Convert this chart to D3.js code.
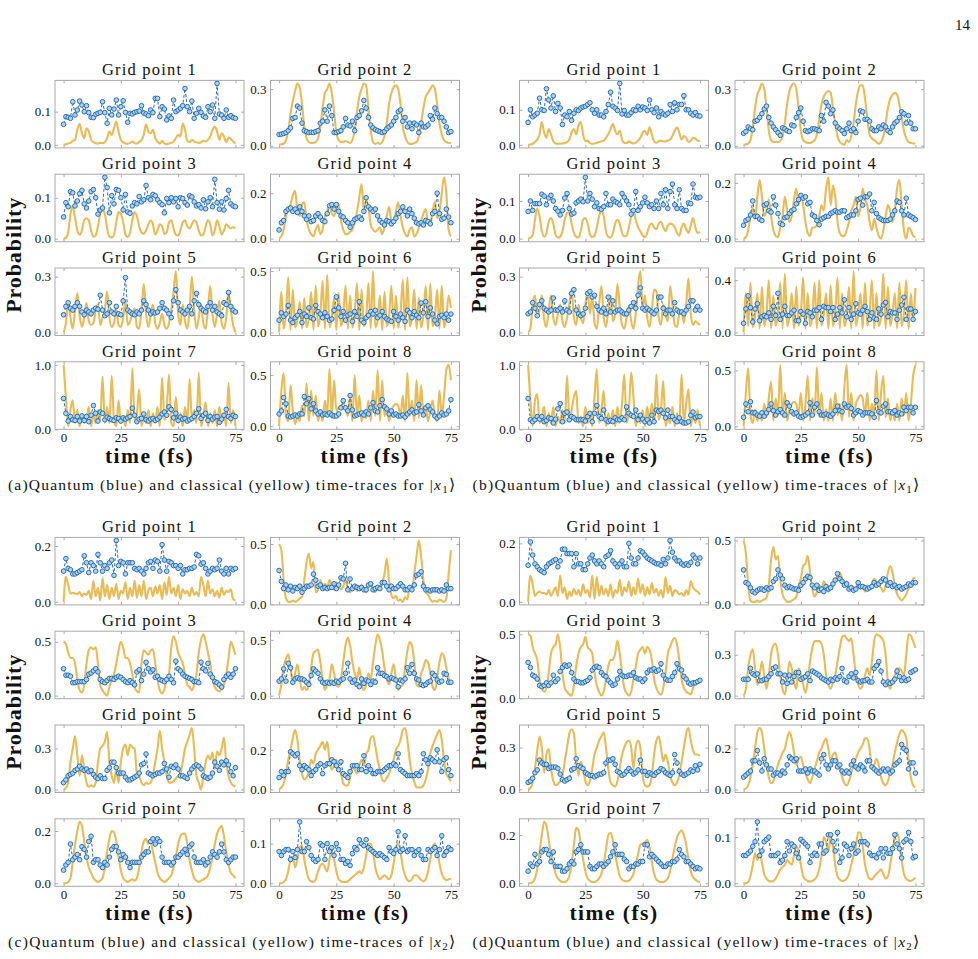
<!DOCTYPE html>
<html>
<head>
<meta charset="utf-8">
<script src="https://cdn.jsdelivr.net/npm/d3@7"></script>
<style>
  body { margin: 0; background: #fff; }
</style>
</head>
<body>
<script>
// time axis (fs)
var tMax = 75;
var xTicks = [0, 25, 50, 75];

// (a) |x1>  -- Q = quantum (blue markers), C = classical (yellow line), grid points 1..8
var aQ1 = [.062,.085,.083,.080,.130,.090,.105,.132,.120,.100,.118,.097,.083,.082,.092,.095,.098,.130,.097,.065,.110,.090,.108,.135,.090,.115,.133,.098,.068,.095,.093,.098,.100,.102,.118,.096,.093,.088,.105,.097,.140,.140,.085,.115,.108,.075,.087,.080,.135,.100,.105,.110,.118,.170,.115,.100,.132,.080,.095,.110,.098,.087,.083,.115,.100,.120,.080,.185,.093,.090,.080,.105,.083,.088,.082,.080];
var aC1 = [.000,.002,.004,.006,.012,.015,.045,.063,.035,.020,.050,.040,.015,.008,.005,.004,.006,.005,.008,.020,.040,.030,.050,.070,.040,.015,.008,.004,.003,.006,.010,.005,.004,.008,.015,.030,.062,.040,.035,.045,.020,.010,.004,.012,.004,.002,.004,.006,.010,.020,.030,.025,.064,.045,.012,.008,.015,.010,.008,.005,.008,.012,.010,.015,.025,.045,.055,.040,.015,.035,.025,.008,.022,.018,.010,.004];
var aQ2 = [.060,.062,.065,.070,.080,.095,.145,.150,.210,.200,.120,.080,.075,.070,.072,.070,.075,.080,.120,.130,.190,.130,.210,.160,.070,.070,.075,.080,.100,.145,.110,.105,.130,.080,.150,.160,.185,.240,.200,.150,.110,.095,.085,.080,.075,.070,.075,.090,.100,.110,.130,.150,.180,.190,.130,.150,.100,.120,.090,.120,.110,.070,.120,.100,.100,.110,.160,.140,.200,.170,.150,.150,.130,.100,.070,.075];
var aC2 = [.005,.008,.012,.030,.080,.170,.240,.290,.330,.310,.220,.100,.040,.020,.015,.015,.020,.040,.100,.200,.280,.300,.330,.280,.180,.070,.030,.020,.020,.025,.020,.015,.030,.080,.180,.260,.300,.330,.320,.200,.080,.020,.010,.015,.010,.020,.050,.120,.220,.280,.310,.320,.300,.220,.100,.050,.020,.010,.010,.015,.020,.050,.120,.200,.260,.280,.300,.320,.300,.220,.120,.060,.030,.020,.015,.015];
var aQ3 = [.053,.088,.078,.115,.112,.080,.092,.110,.118,.085,.075,.092,.115,.120,.100,.060,.070,.075,.150,.125,.063,.105,.085,.120,.118,.100,.070,.108,.065,.062,.080,.088,.085,.103,.090,.095,.130,.100,.095,.108,.105,.095,.088,.083,.063,.098,.088,.100,.090,.098,.078,.100,.098,.088,.082,.105,.102,.090,.080,.083,.075,.095,.073,.090,.100,.078,.145,.088,.072,.090,.070,.098,.118,.085,.080,.078];
var aC3 = [.000,.002,.015,.060,.080,.050,.020,.010,.020,.045,.050,.045,.020,.005,.008,.030,.060,.070,.060,.025,.005,.003,.010,.040,.065,.060,.040,.010,.004,.015,.045,.065,.055,.030,.015,.012,.020,.035,.045,.035,.010,.020,.035,.030,.012,.015,.040,.045,.025,.010,.008,.020,.040,.045,.030,.025,.035,.045,.040,.020,.008,.010,.030,.045,.035,.008,.020,.045,.030,.010,.020,.035,.030,.025,.028,.025];
var aQ4 = [.038,.070,.080,.120,.130,.135,.120,.130,.115,.140,.120,.100,.085,.100,.075,.080,.100,.110,.095,.080,.075,.110,.145,.150,.130,.150,.120,.100,.095,.080,.070,.050,.070,.085,.090,.095,.085,.120,.180,.140,.130,.120,.130,.100,.080,.070,.060,.080,.075,.065,.075,.090,.110,.120,.140,.120,.100,.130,.110,.090,.070,.065,.070,.060,.080,.075,.065,.110,.120,.200,.110,.085,.090,.130,.095,.070];
var aC4 = [.000,.010,.040,.100,.130,.150,.190,.210,.120,.100,.150,.160,.080,.040,.020,.010,.040,.060,.020,.040,.100,.120,.150,.110,.100,.140,.150,.080,.040,.020,.020,.030,.040,.070,.120,.180,.240,.120,.170,.140,.060,.040,.030,.040,.050,.020,.050,.100,.140,.080,.070,.120,.160,.100,.050,.020,.010,.040,.050,.010,.020,.050,.080,.110,.130,.070,.060,.120,.160,.090,.120,.200,.270,.200,.040,.010];
var aQ5 = [.095,.140,.160,.130,.120,.140,.160,.140,.110,.095,.120,.110,.100,.120,.130,.125,.200,.120,.090,.100,.160,.110,.100,.140,.100,.095,.170,.295,.120,.110,.100,.095,.110,.100,.120,.170,.150,.120,.100,.110,.105,.110,.130,.160,.130,.120,.100,.080,.170,.230,.160,.120,.110,.100,.120,.140,.100,.170,.210,.150,.130,.120,.110,.140,.160,.120,.140,.110,.100,.090,.160,.150,.215,.140,.120,.110];
var aC5 = [.000,.050,.170,.080,.020,.120,.210,.090,.030,.080,.160,.060,.040,.050,.120,.150,.040,.080,.120,.220,.080,.030,.050,.120,.040,.030,.080,.170,.040,.060,.100,.130,.030,.020,.120,.260,.100,.030,.090,.150,.050,.020,.050,.100,.040,.020,.050,.120,.220,.330,.100,.040,.150,.060,.020,.120,.300,.120,.020,.080,.150,.050,.020,.120,.250,.100,.030,.100,.170,.050,.020,.080,.210,.120,.040,.000];
var aQ6 = [.100,.160,.130,.150,.220,.100,.080,.120,.140,.170,.080,.150,.130,.200,.120,.110,.220,.170,.150,.120,.160,.130,.100,.110,.180,.290,.200,.130,.170,.100,.140,.150,.090,.170,.130,.250,.100,.080,.120,.140,.170,.150,.180,.120,.140,.170,.130,.110,.100,.090,.170,.130,.100,.150,.120,.090,.180,.160,.120,.170,.140,.120,.240,.160,.250,.130,.200,.150,.100,.070,.130,.140,.120,.150,.100,.150];
var aC6 = [.000,.330,.030,.150,.450,.020,.350,.040,.100,.250,.030,.280,.040,.120,.330,.020,.380,.050,.150,.420,.030,.470,.040,.120,.280,.020,.320,.050,.140,.380,.030,.300,.040,.150,.400,.020,.350,.050,.120,.400,.030,.500,.040,.100,.300,.020,.330,.050,.130,.380,.030,.300,.040,.150,.430,.020,.450,.050,.120,.350,.030,.280,.040,.140,.380,.020,.400,.050,.120,.350,.030,.380,.040,.120,.300,.200];
var aQ7 = [.480,.250,.130,.200,.150,.140,.200,.130,.210,.140,.200,.120,.220,.370,.250,.130,.270,.250,.150,.190,.170,.150,.140,.180,.170,.130,.180,.160,.180,.200,.330,.220,.120,.160,.170,.240,.150,.130,.160,.170,.140,.160,.190,.240,.270,.220,.350,.310,.180,.250,.140,.190,.160,.170,.130,.150,.170,.200,.250,.320,.170,.220,.250,.140,.200,.160,.190,.200,.110,.160,.220,.310,.200,.170,.220,.200];
var aC7 = [1.00,.500,.050,.300,.450,.100,.300,.050,.200,.100,.150,.350,.050,.250,.100,.300,.150,.820,.100,.350,.100,.830,.150,.050,.450,.100,.200,.050,.300,.100,.950,.150,.250,.620,.050,.200,.100,.300,.050,.250,.100,.350,.050,.800,.150,.300,.850,.100,.050,.500,.100,.250,.050,.350,.100,.780,.150,.300,.100,.880,.050,.200,.420,.050,.250,.100,.300,.050,.350,.100,.250,.050,.720,.100,.300,.050];
var aQ8 = [.120,.150,.280,.220,.100,.090,.100,.110,.100,.120,.120,.290,.220,.270,.170,.220,.150,.120,.140,.110,.120,.110,.130,.110,.100,.100,.120,.180,.250,.180,.150,.300,.160,.100,.110,.120,.130,.110,.140,.120,.180,.230,.150,.140,.200,.260,.190,.170,.120,.150,.110,.120,.100,.100,.110,.090,.120,.140,.160,.130,.140,.210,.150,.110,.180,.200,.160,.140,.100,.080,.100,.130,.110,.120,.150,.260];
var aC8 = [.000,.350,.520,.100,.050,.400,.150,.020,.100,.050,.200,.100,.420,.050,.350,.100,.300,.050,.150,.050,.250,.100,.560,.080,.450,.150,.180,.200,.220,.180,.100,.300,.050,.500,.100,.300,.050,.150,.080,.250,.050,.350,.100,.550,.050,.450,.100,.200,.050,.150,.200,.220,.200,.100,.300,.050,.520,.100,.250,.050,.450,.080,.400,.100,.200,.050,.150,.250,.100,.050,.350,.100,.300,.550,.600,.450];

// (b) |x1>
var bQ1 = [.064,.100,.080,.085,.090,.133,.100,.098,.160,.128,.105,.140,.095,.118,.105,.058,.085,.080,.095,.070,.090,.100,.098,.105,.108,.110,.115,.120,.100,.090,.100,.085,.085,.080,.095,.115,.150,.110,.105,.098,.175,.088,.098,.085,.085,.092,.100,.098,.110,.100,.108,.105,.098,.128,.100,.092,.105,.080,.095,.088,.085,.090,.115,.095,.120,.100,.115,.115,.140,.100,.100,.090,.085,.092,.083,.082];
var bC1 = [.000,.001,.003,.008,.015,.030,.065,.035,.020,.045,.030,.010,.004,.003,.003,.004,.005,.008,.015,.035,.045,.030,.055,.065,.030,.010,.012,.005,.003,.004,.006,.008,.010,.012,.020,.030,.045,.060,.040,.030,.040,.015,.006,.005,.010,.006,.004,.006,.012,.020,.035,.040,.028,.050,.030,.010,.006,.010,.012,.010,.010,.012,.015,.025,.040,.050,.035,.015,.025,.020,.008,.012,.020,.018,.012,.010];
var bQ2 = [.066,.075,.100,.090,.085,.130,.135,.150,.170,.195,.210,.150,.120,.100,.085,.070,.055,.095,.090,.080,.075,.110,.105,.150,.175,.200,.130,.080,.075,.080,.090,.090,.085,.080,.160,.130,.230,.210,.170,.190,.120,.100,.090,.080,.065,.090,.120,.080,.090,.070,.130,.185,.180,.140,.140,.130,.090,.080,.080,.100,.090,.110,.100,.080,.070,.100,.120,.130,.150,.180,.170,.120,.160,.120,.090,.090];
var bC2 = [.005,.008,.012,.030,.100,.200,.270,.300,.330,.300,.200,.080,.030,.020,.020,.020,.025,.050,.120,.220,.290,.320,.330,.300,.200,.080,.030,.020,.015,.015,.020,.030,.060,.140,.220,.260,.280,.290,.280,.200,.120,.050,.020,.010,.005,.030,.020,.050,.120,.220,.290,.320,.320,.250,.150,.060,.040,.030,.020,.010,.020,.050,.120,.200,.250,.270,.280,.270,.220,.150,.080,.040,.020,.015,.012,.012];
var bQ3 = [.072,.100,.075,.093,.093,.093,.118,.113,.090,.108,.115,.100,.080,.073,.063,.075,.108,.120,.080,.065,.068,.095,.100,.105,.098,.163,.100,.120,.105,.085,.095,.080,.078,.085,.120,.090,.090,.105,.098,.095,.090,.120,.110,.100,.090,.065,.075,.125,.075,.085,.095,.110,.095,.085,.090,.080,.100,.080,.120,.090,.130,.080,.125,.145,.090,.080,.130,.080,.075,.075,.095,.093,.145,.110,.108,.110];
var bC3 = [.000,.002,.010,.050,.080,.060,.020,.005,.015,.045,.055,.040,.010,.003,.005,.020,.050,.068,.070,.040,.015,.005,.003,.020,.050,.055,.040,.012,.004,.008,.030,.060,.075,.060,.020,.005,.003,.015,.040,.050,.040,.015,.006,.008,.030,.060,.075,.050,.030,.020,.008,.004,.015,.035,.040,.030,.025,.040,.045,.030,.020,.035,.040,.038,.030,.015,.008,.030,.040,.025,.015,.035,.055,.030,.015,.018];
var bQ4 = [.048,.065,.070,.085,.135,.080,.080,.070,.065,.120,.125,.100,.095,.150,.120,.090,.055,.050,.075,.078,.090,.100,.105,.125,.140,.155,.145,.150,.125,.130,.085,.080,.065,.050,.070,.075,.080,.080,.090,.095,.100,.095,.095,.100,.100,.075,.080,.085,.085,.100,.140,.145,.120,.150,.150,.160,.100,.130,.090,.075,.070,.065,.065,.065,.070,.085,.100,.135,.130,.100,.085,.145,.085,.080,.075,.068];
var bC4 = [.000,.005,.030,.080,.110,.070,.150,.210,.150,.080,.100,.140,.080,.030,.010,.005,.040,.080,.150,.100,.060,.080,.140,.180,.120,.160,.120,.060,.020,.010,.040,.040,.050,.080,.120,.100,.180,.220,.120,.190,.150,.060,.020,.010,.010,.030,.060,.100,.120,.150,.080,.110,.180,.140,.120,.060,.030,.070,.040,.010,.000,.030,.080,.120,.100,.060,.100,.180,.210,.120,.030,.000,.040,.030,.010,.005];
var bQ5 = [.100,.110,.160,.130,.090,.150,.170,.130,.120,.110,.120,.185,.120,.120,.130,.110,.170,.120,.110,.210,.230,.120,.100,.090,.100,.130,.210,.220,.190,.200,.140,.120,.110,.130,.100,.190,.110,.170,.110,.120,.120,.110,.100,.100,.120,.140,.160,.130,.200,.240,.130,.120,.130,.120,.110,.100,.120,.190,.190,.130,.100,.120,.120,.100,.160,.120,.110,.110,.100,.120,.140,.170,.170,.120,.140,.120];
var bC5 = [.000,.020,.150,.200,.080,.120,.200,.070,.030,.120,.200,.080,.040,.100,.150,.060,.030,.080,.150,.230,.080,.040,.150,.080,.050,.150,.220,.100,.190,.050,.020,.150,.250,.080,.030,.120,.200,.060,.100,.260,.140,.040,.020,.080,.140,.060,.020,.100,.250,.330,.120,.200,.080,.030,.120,.230,.220,.080,.040,.150,.100,.060,.250,.150,.040,.030,.100,.120,.050,.150,.290,.100,.040,.060,.050,.040];
var bQ6 = [.070,.180,.280,.190,.080,.180,.220,.090,.120,.130,.120,.150,.100,.200,.130,.300,.100,.140,.200,.130,.130,.150,.170,.090,.090,.160,.140,.070,.160,.150,.120,.170,.170,.190,.100,.200,.190,.190,.160,.190,.100,.140,.190,.150,.250,.120,.190,.100,.140,.220,.150,.140,.170,.200,.160,.100,.150,.110,.100,.180,.140,.210,.230,.120,.160,.150,.150,.100,.170,.210,.270,.100,.180,.180,.100,.160];
var bC6 = [.000,.300,.050,.380,.040,.120,.300,.030,.350,.050,.140,.400,.030,.280,.050,.150,.380,.030,.450,.050,.120,.300,.030,.350,.050,.150,.420,.030,.300,.050,.120,.380,.030,.400,.050,.140,.300,.030,.360,.050,.150,.420,.030,.300,.050,.120,.350,.030,.470,.050,.140,.300,.030,.380,.050,.150,.400,.030,.300,.050,.120,.450,.030,.350,.050,.140,.300,.030,.380,.050,.150,.400,.030,.300,.100,.340];
var bQ7 = [.480,.150,.120,.150,.200,.160,.200,.120,.140,.180,.170,.100,.160,.320,.400,.120,.250,.270,.150,.200,.180,.150,.150,.150,.150,.130,.200,.250,.120,.250,.370,.200,.170,.300,.150,.120,.140,.120,.180,.150,.150,.180,.150,.350,.250,.220,.200,.300,.150,.220,.160,.120,.150,.100,.220,.120,.300,.280,.300,.250,.180,.300,.200,.200,.150,.120,.180,.120,.100,.100,.120,.220,.270,.180,.200,.200];
var bC7 = [1.00,.450,.050,.450,.550,.100,.200,.350,.050,.250,.100,.350,.050,.200,.100,.300,.100,.830,.150,.300,.500,.600,.100,.200,.050,.350,.100,.250,.050,.500,.930,.100,.300,.600,.050,.250,.100,.300,.050,.350,.100,.400,.850,.100,.300,.880,.500,.050,.250,.100,.300,.050,.350,.100,.400,.100,.850,.150,.300,.750,.050,.200,.100,.350,.050,.250,.100,.850,.100,.400,.620,.050,.250,.100,.300,.050];
var bQ8 = [.080,.200,.130,.220,.120,.120,.100,.090,.120,.090,.120,.150,.200,.140,.100,.130,.150,.120,.100,.210,.180,.130,.110,.120,.090,.080,.090,.100,.120,.210,.100,.170,.200,.130,.100,.100,.110,.100,.090,.110,.140,.180,.140,.130,.200,.170,.180,.160,.100,.120,.140,.130,.100,.120,.120,.120,.110,.080,.230,.130,.120,.180,.200,.130,.130,.120,.140,.100,.120,.110,.170,.140,.170,.170,.120,.170];
var bC8 = [.000,.300,.520,.100,.030,.150,.050,.120,.050,.200,.080,.250,.400,.050,.250,.100,.550,.080,.300,.050,.150,.200,.220,.200,.100,.300,.050,.200,.450,.050,.250,.100,.530,.080,.300,.050,.150,.050,.250,.050,.300,.100,.200,.050,.350,.550,.080,.300,.050,.200,.250,.280,.250,.100,.300,.050,.200,.100,.500,.050,.300,.450,.080,.250,.050,.150,.050,.200,.050,.250,.100,.300,.050,.200,.450,.550];

// (c) |x2>
var cQ1 = [.110,.155,.120,.115,.100,.100,.105,.110,.115,.165,.140,.105,.140,.130,.110,.170,.140,.110,.130,.120,.140,.150,.095,.220,.130,.145,.140,.100,.140,.140,.140,.120,.115,.120,.110,.100,.120,.140,.145,.120,.150,.145,.110,.205,.150,.110,.145,.140,.130,.130,.120,.130,.100,.115,.115,.120,.120,.125,.170,.165,.135,.140,.120,.100,.110,.120,.115,.120,.150,.110,.100,.120,.100,.120,.115,.120];
var cC1 = [.000,.090,.060,.030,.032,.030,.028,.035,.020,.030,.025,.040,.010,.075,.020,.050,.005,.085,.020,.060,.010,.050,.020,.065,.010,.040,.030,.070,.010,.050,.020,.075,.015,.060,.020,.075,.010,.040,.050,.020,.055,.030,.060,.010,.070,.025,.090,.030,.050,.020,.060,.010,.045,.030,.040,.020,.050,.025,.035,.020,.090,.060,.020,.075,.030,.045,.020,.040,.015,.050,.025,.040,.035,.045,.010,.005];
var cQ2 = [.280,.190,.130,.160,.120,.150,.110,.140,.130,.150,.100,.130,.150,.150,.160,.250,.200,.150,.160,.130,.140,.130,.140,.140,.170,.130,.160,.220,.210,.340,.120,.210,.130,.150,.140,.130,.140,.120,.120,.160,.170,.120,.130,.140,.130,.180,.180,.150,.120,.150,.130,.130,.150,.170,.150,.120,.120,.140,.120,.160,.240,.250,.270,.150,.120,.120,.110,.120,.120,.120,.110,.120,.110,.160,.130,.130];
var cC2 = [.500,.450,.200,.050,.020,.020,.030,.020,.030,.050,.060,.200,.350,.420,.300,.350,.100,.120,.200,.150,.170,.140,.200,.150,.120,.180,.150,.120,.150,.200,.130,.100,.130,.150,.110,.130,.160,.120,.100,.150,.180,.120,.100,.150,.130,.180,.250,.380,.200,.080,.050,.070,.030,.040,.020,.060,.040,.150,.120,.250,.400,.530,.400,.200,.100,.080,.040,.020,.030,.020,.040,.030,.020,.050,.250,.450];
var cQ3 = [.250,.190,.190,.180,.120,.120,.130,.130,.130,.130,.150,.200,.210,.230,.250,.220,.150,.130,.120,.140,.160,.160,.150,.170,.180,.170,.150,.130,.120,.140,.120,.100,.220,.240,.140,.200,.310,.250,.220,.240,.170,.180,.150,.140,.130,.150,.180,.150,.120,.320,.250,.230,.200,.180,.170,.160,.150,.130,.130,.120,.310,.250,.230,.300,.200,.170,.130,.120,.100,.080,.150,.180,.200,.170,.200,.250];
var cC3 = [.500,.480,.400,.350,.350,.300,.150,.050,.030,.100,.300,.420,.450,.430,.450,.300,.100,.050,.020,.000,.080,.150,.200,.300,.420,.500,.450,.350,.350,.300,.200,.080,.040,.030,.300,.420,.400,.380,.420,.430,.300,.150,.050,.020,.060,.150,.200,.450,.550,.500,.400,.350,.300,.200,.100,.080,.050,.100,.200,.400,.520,.570,.500,.400,.300,.150,.080,.050,.040,.060,.100,.200,.350,.500,.450,.380];
var cQ4 = [.130,.150,.240,.130,.290,.250,.120,.150,.160,.150,.150,.140,.120,.100,.180,.240,.220,.200,.150,.120,.110,.120,.110,.120,.110,.130,.120,.140,.150,.200,.290,.150,.120,.140,.100,.080,.150,.110,.140,.130,.100,.130,.120,.250,.200,.200,.180,.170,.150,.160,.150,.140,.080,.140,.130,.150,.250,.200,.280,.200,.150,.140,.100,.090,.100,.120,.130,.200,.180,.140,.120,.130,.200,.190,.120,.120];
var cC4 = [.000,.100,.250,.330,.370,.250,.100,.200,.280,.150,.050,.080,.050,.100,.250,.380,.400,.410,.300,.150,.050,.100,.150,.280,.200,.100,.080,.150,.300,.450,.520,.450,.300,.200,.150,.250,.100,.050,.100,.200,.150,.300,.450,.550,.500,.400,.250,.150,.100,.200,.280,.150,.050,.080,.100,.250,.400,.480,.450,.300,.100,.080,.200,.250,.320,.300,.200,.080,.050,.150,.300,.380,.350,.250,.150,.100];
var cQ5 = [.050,.070,.100,.110,.120,.140,.150,.170,.150,.140,.150,.130,.140,.110,.090,.080,.100,.080,.080,.140,.160,.200,.200,.160,.120,.120,.120,.090,.070,.070,.080,.090,.100,.120,.180,.190,.260,.120,.110,.100,.110,.120,.120,.130,.190,.150,.090,.170,.160,.180,.150,.100,.100,.090,.080,.120,.150,.170,.180,.170,.150,.100,.090,.080,.090,.120,.200,.170,.140,.200,.180,.210,.180,.130,.100,.160];
var cC5 = [.000,.010,.050,.200,.300,.390,.250,.100,.250,.150,.050,.020,.030,.020,.050,.200,.300,.320,.350,.420,.200,.100,.050,.150,.050,.200,.300,.330,.250,.330,.310,.300,.120,.100,.050,.030,.050,.040,.050,.100,.200,.300,.430,.300,.200,.100,.050,.050,.060,.080,.100,.120,.200,.300,.350,.400,.450,.300,.100,.050,.000,.100,.200,.250,.220,.270,.150,.280,.250,.300,.380,.200,.100,.050,.030,.020];
var cQ6 = [.060,.090,.070,.090,.090,.190,.180,.170,.180,.120,.100,.120,.110,.100,.070,.090,.100,.120,.130,.080,.120,.130,.130,.150,.140,.120,.100,.140,.080,.070,.060,.090,.120,.120,.120,.100,.100,.170,.090,.120,.100,.080,.080,.090,.090,.090,.100,.110,.120,.120,.130,.120,.180,.100,.090,.080,.070,.070,.070,.070,.080,.070,.090,.180,.150,.130,.160,.150,.140,.200,.140,.090,.150,.160,.100,.070];
var cC6 = [.000,.010,.030,.080,.150,.200,.260,.300,.250,.150,.080,.050,.060,.100,.150,.130,.180,.200,.220,.240,.200,.240,.150,.100,.120,.150,.100,.080,.030,.020,.020,.060,.120,.100,.080,.120,.150,.120,.180,.200,.260,.270,.220,.150,.100,.050,.040,.060,.080,.120,.150,.200,.220,.250,.300,.310,.250,.150,.080,.040,.010,.010,.010,.020,.050,.100,.180,.220,.250,.280,.300,.250,.150,.080,.060,.040];
var cQ7 = [.050,.070,.080,.150,.090,.100,.110,.090,.140,.130,.100,.160,.180,.080,.090,.090,.070,.060,.080,.070,.100,.130,.140,.140,.120,.090,.110,.100,.080,.060,.080,.080,.080,.080,.100,.110,.120,.120,.160,.170,.150,.170,.160,.100,.080,.080,.080,.070,.080,.100,.100,.110,.120,.130,.110,.140,.150,.100,.080,.080,.080,.090,.070,.080,.100,.120,.110,.100,.120,.150,.120,.090,.080,.090,.100,.100];
var cC7 = [.000,.000,.005,.020,.080,.150,.200,.235,.220,.160,.100,.060,.040,.020,.010,.005,.010,.020,.060,.120,.170,.200,.195,.160,.100,.050,.020,.010,.005,.010,.015,.010,.020,.060,.120,.160,.170,.150,.160,.120,.080,.040,.020,.010,.005,.010,.020,.030,.060,.100,.150,.180,.190,.190,.150,.090,.050,.020,.010,.005,.010,.015,.020,.030,.060,.100,.150,.190,.210,.220,.180,.120,.070,.040,.030,.020];
var cQ8 = [.080,.070,.080,.085,.085,.060,.080,.065,.085,.155,.080,.080,.105,.090,.070,.060,.055,.060,.100,.095,.060,.100,.080,.090,.070,.100,.085,.060,.060,.050,.055,.045,.075,.090,.085,.110,.100,.095,.110,.090,.085,.080,.075,.070,.075,.070,.065,.060,.090,.080,.075,.085,.130,.080,.085,.120,.080,.085,.085,.070,.080,.085,.070,.060,.060,.085,.080,.085,.090,.070,.085,.120,.070,.080,.090,.085];
var cC8 = [.000,.000,.003,.010,.030,.060,.065,.040,.060,.090,.095,.060,.030,.010,.005,.003,.010,.030,.045,.050,.040,.030,.060,.080,.060,.030,.010,.005,.003,.003,.005,.010,.015,.020,.025,.030,.025,.040,.070,.100,.100,.080,.040,.020,.010,.015,.020,.015,.010,.020,.050,.090,.100,.080,.040,.020,.008,.005,.010,.020,.020,.015,.008,.005,.010,.030,.060,.090,.100,.085,.050,.025,.012,.008,.010,.012];

// (d) |x2>
var dQ1 = [.125,.205,.160,.130,.120,.110,.105,.100,.120,.130,.135,.140,.145,.120,.140,.180,.180,.165,.165,.165,.120,.165,.130,.130,.110,.110,.130,.150,.160,.140,.130,.140,.130,.120,.155,.160,.175,.140,.130,.120,.130,.140,.120,.120,.200,.150,.130,.130,.150,.175,.170,.160,.150,.145,.140,.135,.130,.130,.125,.145,.130,.150,.210,.170,.150,.140,.140,.130,.125,.130,.125,.135,.160,.150,.130,.150];
var dC1 = [.000,.090,.060,.020,.030,.035,.030,.030,.025,.040,.020,.035,.050,.020,.090,.030,.050,.010,.035,.020,.045,.025,.040,.020,.060,.030,.040,.015,.090,.010,.085,.020,.055,.025,.045,.020,.060,.015,.040,.030,.075,.020,.050,.035,.070,.020,.050,.025,.080,.030,.060,.020,.050,.025,.065,.030,.045,.020,.040,.015,.085,.030,.055,.020,.040,.035,.025,.030,.020,.040,.025,.070,.050,.040,.035,.025];
var dQ2 = [.270,.170,.160,.130,.100,.090,.110,.120,.120,.110,.130,.120,.130,.180,.200,.270,.230,.200,.150,.130,.140,.130,.120,.120,.110,.150,.170,.200,.220,.210,.150,.130,.150,.110,.120,.100,.140,.120,.130,.160,.190,.240,.200,.180,.150,.160,.120,.130,.110,.120,.170,.140,.140,.130,.120,.130,.140,.170,.150,.160,.180,.200,.190,.150,.170,.140,.150,.130,.140,.120,.130,.140,.160,.150,.170,.170];
var dC2 = [.500,.400,.150,.030,.020,.020,.030,.020,.030,.040,.050,.150,.350,.450,.350,.380,.200,.080,.040,.020,.020,.030,.040,.060,.150,.200,.300,.320,.380,.250,.120,.060,.100,.150,.120,.180,.150,.100,.130,.150,.180,.220,.250,.200,.150,.180,.120,.150,.100,.130,.150,.120,.140,.100,.150,.120,.160,.200,.180,.150,.130,.100,.150,.250,.300,.250,.150,.080,.050,.030,.050,.080,.120,.150,.200,.210];
var dQ3 = [.280,.240,.180,.170,.150,.100,.090,.100,.120,.100,.120,.180,.130,.150,.210,.240,.260,.250,.260,.200,.150,.130,.130,.120,.120,.130,.140,.160,.220,.240,.250,.240,.200,.180,.170,.140,.120,.100,.110,.150,.210,.180,.170,.170,.180,.180,.200,.160,.150,.150,.130,.150,.200,.220,.220,.230,.210,.220,.270,.180,.150,.140,.140,.170,.200,.270,.230,.220,.170,.150,.120,.110,.120,.120,.130,.140];
var dC3 = [.500,.490,.400,.350,.300,.150,.080,.050,.080,.200,.350,.400,.420,.500,.400,.200,.080,.050,.030,.020,.100,.250,.350,.400,.420,.480,.400,.380,.350,.200,.100,.050,.020,.050,.150,.250,.300,.300,.350,.450,.350,.200,.080,.040,.020,.050,.150,.250,.350,.380,.400,.350,.400,.380,.300,.150,.080,.040,.030,.080,.200,.350,.400,.450,.470,.420,.300,.150,.080,.050,.040,.030,.080,.120,.140,.150];
var dQ4 = [.120,.120,.120,.200,.160,.150,.160,.110,.110,.120,.120,.140,.160,.200,.210,.160,.160,.100,.150,.090,.150,.100,.140,.170,.170,.120,.130,.140,.160,.110,.180,.170,.160,.150,.130,.120,.110,.100,.120,.110,.130,.120,.140,.200,.110,.100,.140,.160,.130,.170,.110,.100,.110,.110,.120,.100,.100,.200,.220,.250,.180,.100,.080,.100,.090,.100,.120,.180,.140,.110,.130,.110,.120,.170,.180,.190];
var dC4 = [.000,.050,.200,.300,.340,.200,.080,.150,.250,.150,.050,.150,.300,.370,.380,.300,.150,.050,.010,.100,.250,.200,.100,.050,.200,.150,.080,.020,.100,.250,.350,.400,.400,.400,.380,.300,.150,.080,.050,.100,.150,.250,.350,.430,.440,.420,.400,.420,.300,.150,.080,.050,.080,.150,.200,.150,.250,.400,.450,.440,.430,.400,.300,.100,.050,.100,.150,.200,.200,.180,.150,.300,.450,.440,.400,.350];
var dQ5 = [.050,.060,.080,.120,.140,.210,.190,.180,.180,.150,.160,.160,.160,.150,.110,.070,.060,.070,.080,.140,.150,.220,.170,.160,.150,.120,.110,.100,.100,.090,.100,.110,.110,.120,.190,.210,.210,.220,.180,.130,.120,.100,.110,.130,.150,.130,.110,.120,.140,.210,.130,.130,.100,.120,.110,.100,.120,.130,.150,.140,.120,.110,.100,.120,.250,.190,.130,.110,.100,.110,.120,.140,.130,.170,.140,.180];
var dC5 = [.000,.010,.050,.150,.280,.380,.300,.120,.250,.290,.150,.060,.030,.040,.060,.100,.200,.300,.400,.430,.400,.200,.100,.200,.150,.060,.030,.060,.150,.250,.300,.350,.380,.410,.300,.150,.050,.030,.020,.060,.150,.250,.300,.340,.350,.300,.150,.300,.350,.300,.100,.030,.020,.030,.100,.250,.350,.380,.300,.200,.250,.200,.100,.050,.030,.050,.100,.200,.300,.400,.440,.350,.280,.250,.250,.240];
var dQ6 = [.060,.070,.080,.090,.140,.140,.190,.130,.090,.150,.120,.100,.100,.070,.080,.080,.070,.090,.080,.120,.160,.150,.140,.150,.090,.090,.090,.100,.080,.100,.090,.090,.080,.070,.150,.170,.120,.100,.120,.140,.140,.110,.120,.090,.080,.090,.080,.120,.140,.110,.100,.120,.110,.090,.140,.140,.110,.100,.090,.080,.090,.100,.090,.100,.080,.090,.120,.130,.140,.220,.200,.190,.100,.130,.130,.080];
var dC6 = [.000,.005,.020,.060,.120,.200,.280,.300,.280,.200,.120,.060,.030,.040,.080,.120,.150,.180,.200,.250,.280,.250,.180,.120,.150,.160,.120,.080,.050,.030,.060,.100,.140,.180,.200,.230,.250,.200,.140,.170,.180,.140,.100,.060,.030,.020,.040,.080,.120,.150,.180,.200,.220,.250,.250,.200,.100,.120,.150,.120,.060,.030,.020,.040,.080,.120,.180,.230,.270,.290,.280,.250,.150,.060,.020,.010];
var dQ7 = [.050,.080,.070,.120,.080,.090,.130,.140,.140,.120,.090,.130,.070,.070,.070,.050,.050,.060,.080,.090,.080,.130,.140,.160,.130,.130,.130,.070,.060,.060,.070,.080,.080,.070,.080,.090,.110,.130,.160,.120,.120,.120,.100,.090,.060,.070,.070,.080,.080,.090,.090,.160,.160,.110,.120,.110,.100,.090,.080,.070,.070,.080,.080,.090,.090,.100,.140,.120,.110,.090,.090,.080,.070,.060,.065,.060];
var dC7 = [.000,.000,.005,.020,.060,.130,.200,.255,.240,.180,.120,.080,.040,.020,.010,.005,.005,.010,.030,.080,.160,.230,.220,.160,.100,.050,.020,.010,.005,.005,.010,.020,.040,.080,.140,.200,.210,.180,.120,.070,.030,.015,.010,.008,.010,.020,.040,.080,.120,.160,.165,.170,.180,.150,.090,.040,.015,.008,.005,.005,.010,.020,.050,.100,.150,.190,.210,.220,.200,.160,.100,.050,.025,.015,.008,.005];
var dQ8 = [.060,.060,.065,.070,.080,.090,.133,.060,.070,.090,.095,.100,.060,.060,.060,.065,.045,.050,.060,.090,.070,.085,.080,.065,.055,.095,.090,.085,.080,.045,.060,.065,.060,.085,.085,.065,.070,.105,.105,.090,.070,.110,.045,.055,.085,.080,.060,.075,.085,.065,.070,.090,.090,.090,.085,.065,.060,.060,.055,.065,.075,.055,.075,.065,.065,.075,.105,.085,.075,.055,.090,.095,.110,.090,.055,.058];
var dC8 = [.000,.000,.003,.015,.040,.065,.050,.065,.045,.020,.010,.005,.004,.005,.010,.020,.030,.035,.040,.050,.045,.040,.060,.080,.070,.040,.015,.008,.005,.004,.005,.008,.015,.030,.060,.100,.090,.070,.100,.080,.040,.015,.008,.005,.006,.010,.020,.040,.060,.080,.110,.110,.080,.040,.020,.010,.008,.015,.020,.025,.030,.020,.010,.015,.040,.070,.100,.110,.090,.050,.020,.010,.006,.005,.008,.012];

// upper labelled y tick of every grid point (the lower one is 0.0)
var aTicks = [0.1, 0.3, 0.1, 0.2, 0.3, 0.5, 1.0, 0.5];
var bTicks = [0.1, 0.3, 0.1, 0.2, 0.3, 0.4, 1.0, 0.5];
var cTicks = [0.2, 0.5, 0.5, 0.5, 0.3, 0.2, 0.2, 0.1];
var dTicks = [0.2, 0.5, 0.5, 0.3, 0.3, 0.2, 0.2, 0.1];

var captions = [
  "(a)Quantum (blue) and classical (yellow) time-traces for ",
  "(b)Quantum (blue) and classical (yellow) time-traces of ",
  "(c)Quantum (blue) and classical (yellow) time-traces of ",
  "(d)Quantum (blue) and classical (yellow) time-traces of "
];
var kets = ["1", "1", "2", "2"];

var width = 978, height = 959;
var serif = "'Liberation Serif', 'Times New Roman', serif";
var blue = "#2a6db4", blueFill = "#acd4f1", gold = "#e8bb57", frameCol = "#a9a9a9";

var svg = d3.select("body").append("svg")
    .attr("width", width)
    .attr("height", height)
    .style("display", "block");

// panel grid inside one subfigure
var colLeft = [55, 270.5], panelW = 189;
var rowTop = [80.4, 174.2, 268, 361.8], panelH = 67.5;

var subfigs = [
  {ox: 0, oy: 0, ticks: aTicks, series: [[aQ1, aC1], [aQ2, aC2], [aQ3, aC3], [aQ4, aC4], [aQ5, aC5], [aQ6, aC6], [aQ7, aC7], [aQ8, aC8]]},
  {ox: 464.5, oy: 0, ticks: bTicks, series: [[bQ1, bC1], [bQ2, bC2], [bQ3, bC3], [bQ4, bC4], [bQ5, bC5], [bQ6, bC6], [bQ7, bC7], [bQ8, bC8]]},
  {ox: 0, oy: 457, ticks: cTicks, series: [[cQ1, cC1], [cQ2, cC2], [cQ3, cC3], [cQ4, cC4], [cQ5, cC5], [cQ6, cC6], [cQ7, cC7], [cQ8, cC8]]},
  {ox: 464.5, oy: 457, ticks: dTicks, series: [[dQ1, dC1], [dQ2, dC2], [dQ3, dC3], [dQ4, dC4], [dQ5, dC5], [dQ6, dC6], [dQ7, dC7], [dQ8, dC8]]}
];

// stretch a text to a given width with letter spacing
function fit(sel, w) {
  var n = sel.text().length;
  var cur = sel.node().getComputedTextLength();
  sel.attr("letter-spacing", ((w - cur) / n).toFixed(2));
}

function styleAxis(g, labels) {
  g.attr("font-family", serif).attr("font-size", 13);
  g.select(".domain").remove();
  g.selectAll(".tick line").attr("stroke", frameCol);
  g.selectAll(".tick text").attr("fill", "#111");
  if (!labels) g.selectAll(".tick text").remove();
}

function drawPanel(g, L, T, q, c, tick, k, bottom) {
  var x = d3.scaleLinear().domain([-0.05 * tMax, 1.05 * tMax]).range([L, L + panelW]);
  var lo = Math.min(d3.min(q), d3.min(c)), hi = Math.max(d3.max(q), d3.max(c));
  var pad = 0.05 * (hi - lo);
  var y = d3.scaleLinear().domain([lo - pad, hi + pad]).range([T + panelH, T]);
  var tOf = function(i, n) { return i * tMax / (n - 1); };

  g.append("rect")
      .attr("x", L).attr("y", T)
      .attr("width", panelW).attr("height", panelH)
      .attr("fill", "none")
      .attr("stroke", frameCol)
      .attr("stroke-width", 1);

  var fmt = d3.format(".1f");
  g.append("g").attr("transform", "translate(" + L + ",0)")
      .call(d3.axisLeft(y).tickValues([0, tick]).tickSize(-3).tickPadding(4).tickFormat(fmt))
      .call(styleAxis, true);
  g.append("g").attr("transform", "translate(" + (L + panelW) + ",0)")
      .call(d3.axisRight(y).tickValues([0, tick]).tickSize(-3))
      .call(styleAxis, false);
  g.append("g").attr("transform", "translate(0," + (T + panelH) + ")")
      .call(d3.axisBottom(x).tickValues(xTicks).tickSize(-3).tickPadding(3.5).tickFormat(d3.format("d")))
      .call(styleAxis, bottom);
  g.append("g").attr("transform", "translate(0," + T + ")")
      .call(d3.axisTop(x).tickValues(xTicks).tickSize(-3))
      .call(styleAxis, false);

  // classical trace
  var lineC = d3.line()
      .x(function(d, i) { return x(tOf(i, c.length)); })
      .y(function(d) { return y(d); })
      .curve(d3.curveMonotoneX);
  g.append("path").datum(c)
      .attr("d", lineC)
      .attr("fill", "none")
      .attr("stroke", gold)
      .attr("stroke-width", 2.1)
      .attr("stroke-linejoin", "round");

  // quantum trace
  var lineQ = d3.line()
      .x(function(d, i) { return x(tOf(i, q.length)); })
      .y(function(d) { return y(d); });
  g.append("path").datum(q)
      .attr("d", lineQ)
      .attr("fill", "none")
      .attr("stroke", blue)
      .attr("stroke-width", 1)
      .attr("stroke-dasharray", "3,2");
  g.selectAll(null).data(q).enter().append("circle")
      .attr("cx", function(d, i) { return x(tOf(i, q.length)); })
      .attr("cy", function(d) { return y(d); })
      .attr("r", 2.3)
      .attr("fill", blueFill)
      .attr("stroke", blue)
      .attr("stroke-width", 1);

  var title = g.append("text")
      .attr("x", L + panelW / 2)
      .attr("y", T - 5)
      .attr("text-anchor", "middle")
      .attr("font-family", serif)
      .attr("font-size", 16.5)
      .attr("fill", "#111")
      .text("Grid point " + k);
  fit(title, 95);
}

subfigs.forEach(function(sf, si) {
  var g = svg.append("g").attr("transform", "translate(" + sf.ox + "," + sf.oy + ")");

  sf.series.forEach(function(s, k) {
    var col = k % 2, row = Math.floor(k / 2);
    drawPanel(g, colLeft[col], rowTop[row], s[0], s[1], sf.ticks[k], k + 1, row === 3);
  });

  var midY = (rowTop[0] + rowTop[3] + panelH) / 2;
  var yl = g.append("text")
      .attr("transform", "translate(21," + midY + ") rotate(-90)")
      .attr("text-anchor", "middle")
      .attr("font-family", serif)
      .attr("font-weight", "bold")
      .attr("font-size", 22)
      .attr("fill", "#111")
      .text("Probability");
  fit(yl, 116);

  colLeft.forEach(function(L) {
    var tl = g.append("text")
        .attr("x", L + panelW / 2)
        .attr("y", rowTop[3] + panelH + 34)
        .attr("text-anchor", "middle")
        .attr("font-family", serif)
        .attr("font-weight", "bold")
        .attr("font-size", 21.5)
        .attr("fill", "#111")
        .text("time (fs)");
    fit(tl, 89);
  });

  var cap = g.append("text")
      .attr("x", 8)
      .attr("y", 490)
      .attr("font-family", serif)
      .attr("font-size", 15.5)
      .attr("fill", "#111");
  cap.append("tspan").text(captions[si] + "|");
  cap.append("tspan").attr("font-style", "italic").text("x");
  cap.append("tspan").attr("dy", 3).attr("font-size", 11).text(kets[si]);
  cap.append("tspan").attr("dy", -3).text("\u27E9");
  fit(cap, 448);
});

svg.append("text")
    .attr("x", 970)
    .attr("y", 30)
    .attr("text-anchor", "end")
    .attr("font-family", serif)
    .attr("font-size", 15)
    .attr("fill", "#111")
    .text("14");
</script>
</body>
</html>
